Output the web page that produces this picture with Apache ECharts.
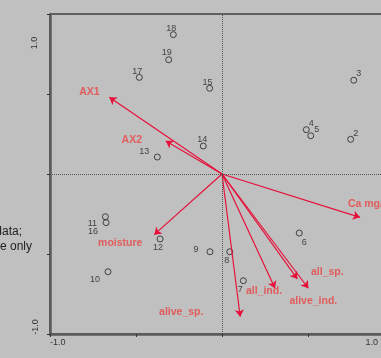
<!DOCTYPE html>
<html>
<head>
<meta charset="utf-8">
<script src="https://cdn.jsdelivr.net/npm/echarts@6/dist/echarts.min.js"></script>
<style>
  html, body { margin: 0; padding: 0; background: #c0c0c0; }
  #chart { width: 381px; height: 358px; }
</style>
</head>
<body>
<div id="chart"></div>
<script>
// samples (scores)
const sampleIds = ['2', '3', '4', '5', '6', '7', '8', '9', '10', '11', '12', '13', '14', '15', '16', '17', '18', '19']
const sampleX = [0.748, 0.766, 0.490, 0.516, 0.449, 0.124, 0.045, -0.070, -0.663, -0.678, -0.360, -0.376, -0.109, -0.072, -0.674, -0.481, -0.283, -0.310]
const sampleY = [0.217, 0.586, 0.277, 0.239, -0.369, -0.667, -0.486, -0.486, -0.611, -0.267, -0.406, 0.106, 0.175, 0.536, -0.304, 0.604, 0.871, 0.714]

// variables (arrows)
const varNames = ['AX1', 'AX2', 'moisture', 'Ca mg/l', 'alive_sp.', 'all_ind.', 'all_sp.', 'alive_ind.']
const varX = [-0.655, -0.327, -0.394, 0.802, 0.106, 0.308, 0.438, 0.502]
const varY = [0.479, 0.206, -0.379, -0.271, -0.892, -0.714, -0.656, -0.714]

// label placement (pixels, relative to the mark)
const sampleLabelOffset = [[5, -6], [5, -7], [5, -6], [6, -6], [5, 9], [-3, 9], [-3, 9], [-14, -2], [-13, 8], [-13, 7], [-2, 9], [-13, -6], [-1, -6], [-2, -6], [-13, 9], [-2, -6], [-2, -6], [-2, -7]]
const varLabelOffset = [[-20, -5], [-34, -1], [-34, 8], [-12, -13], [-59, -5], [-11, 3], [30, -7], [5, 13]]

const red = '#e6103a'
const labelRed = '#e84444'
const font = 'Liberation Sans, Arial, sans-serif'

const chart = echarts.init(document.getElementById('chart'), null, { renderer: 'canvas' })

chart.setOption({
  animation: false,
  backgroundColor: '#c0c0c0',
  grid: {
    left: 50, top: 14, width: 344, height: 320,
    outerBoundsMode: 'none', containLabel: false,
    show: true, borderColor: '#000', borderWidth: 1, backgroundColor: 'transparent'
  },
  xAxis: {
    type: 'value', min: -1, max: 1, interval: 0.5,
    axisLine: { onZero: false, lineStyle: { color: '#5a5a5a', width: 2.5 } },
    axisTick: { show: true, length: 3, inside: false, lineStyle: { color: '#333', width: 1 } },
    axisLabel: { show: false },
    splitLine: { show: false }
  },
  yAxis: {
    type: 'value', min: -1, max: 1, interval: 0.5,
    axisLine: { onZero: false, lineStyle: { color: '#5a5a5a', width: 2.5 } },
    axisTick: { show: true, length: 3, inside: false, lineStyle: { color: '#333', width: 1 } },
    axisLabel: { show: false },
    splitLine: { show: false }
  },
  graphic: [
    { type: 'text', x: 22, y: 232, style: { text: 'data;', font: '12px ' + font, fill: '#222', textAlign: 'right', textVerticalAlign: 'middle' } },
    { type: 'text', x: 32, y: 247, style: { text: 'e only', font: '12px ' + font, fill: '#222', textAlign: 'right', textVerticalAlign: 'middle' } },
    { type: 'text', x: 50, y: 343, style: { text: '-1.0', font: '9px ' + font, fill: '#333', textAlign: 'left', textVerticalAlign: 'middle' } },
    { type: 'text', x: 378, y: 343, style: { text: '1.0', font: '9px ' + font, fill: '#333', textAlign: 'right', textVerticalAlign: 'middle' } },
    { type: 'text', x: 35, y: 43, rotation: Math.PI / 2, style: { text: '1.0', font: '9px ' + font, fill: '#333', textAlign: 'center', textVerticalAlign: 'middle' } },
    { type: 'text', x: 36, y: 327, rotation: Math.PI / 2, style: { text: '-1.0', font: '9px ' + font, fill: '#333', textAlign: 'center', textVerticalAlign: 'middle' } }
  ],
  series: [
    {
      type: 'scatter',
      symbol: 'circle',
      symbolSize: 6,
      itemStyle: { color: 'rgba(0,0,0,0)', borderColor: '#222', borderWidth: 1 },
      data: sampleIds.map((id, i) => ({
        name: id,
        value: [sampleX[i], sampleY[i]],
        label: {
          show: true, formatter: id, position: 'inside',
          offset: sampleLabelOffset[i], color: '#222',
          fontSize: 9, fontFamily: font
        }
      })),
      markLine: {
        silent: true, symbol: 'none', animation: false,
        label: { show: false },
        lineStyle: { type: [1, 1], color: '#555', width: 1 },
        data: [{ xAxis: 0 }, { yAxis: 0 }]
      },
      z: 3
    },
    {
      type: 'lines',
      coordinateSystem: 'cartesian2d',
      symbol: ['none', 'arrow'],
      symbolSize: [0, 7],
      lineStyle: { color: red, width: 1.2, opacity: 1 },
      data: varNames.map((n, i) => ({ coords: [[0, 0], [varX[i], varY[i]]] })),
      z: 4
    },
    {
      type: 'scatter',
      symbolSize: 0,
      data: varNames.map((n, i) => ({
        name: n,
        value: [varX[i], varY[i]],
        label: {
          show: true, formatter: n, position: 'inside',
          offset: varLabelOffset[i], color: labelRed,
          fontSize: 10.5, fontWeight: 'bold', fontFamily: font,
          align: i === 3 ? 'left' : 'center'
        }
      })),
      z: 5
    }
  ]
})
</script>
</body>
</html>
